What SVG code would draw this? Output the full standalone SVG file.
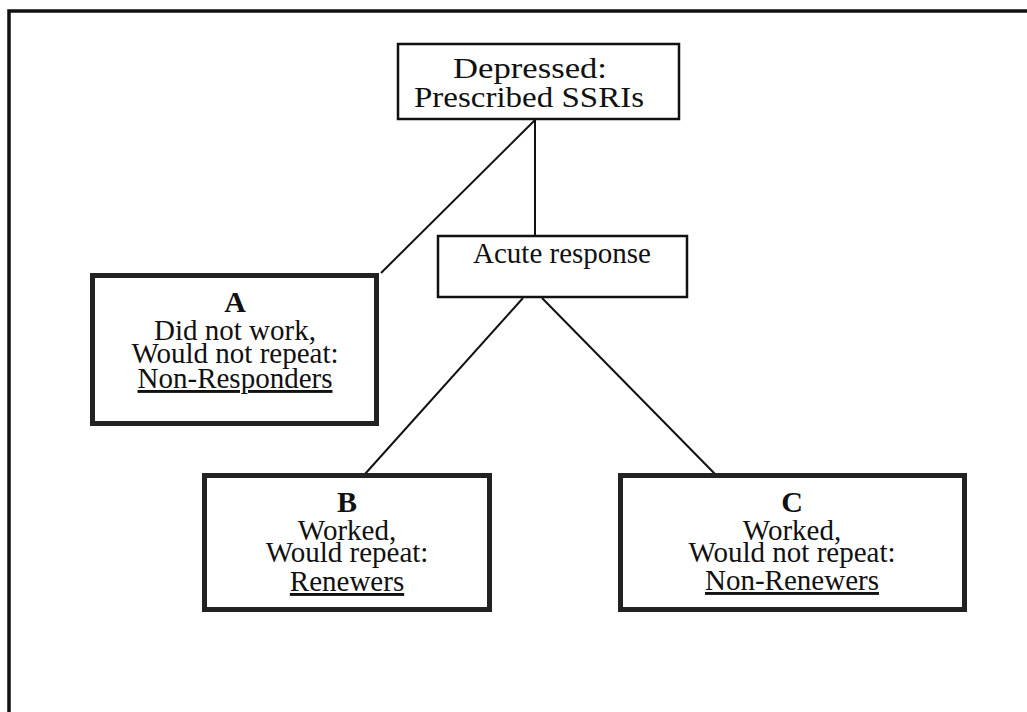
<svg xmlns="http://www.w3.org/2000/svg" width="1027" height="712" viewBox="0 0 1027 712">
<style>
.t{font-family:"Liberation Serif","Times New Roman",serif;font-size:29px;fill:#111;text-anchor:middle}
.b{font-weight:bold;font-size:30px}
.u{text-decoration:underline}
.thin{fill:#fff;stroke:#111;stroke-width:2.5}
.thick{fill:#fff;stroke:#222;stroke-width:5}
.c{stroke:#111;stroke-width:2;fill:none}
</style>
<rect width="1027" height="712" fill="#fff"/>
<path d="M9,712 V11 H1027" fill="none" stroke="#111" stroke-width="3.5"/>
<g id="connectors">
<line class="c" x1="535" y1="120" x2="381" y2="273"/>
<line class="c" x1="535" y1="120" x2="535" y2="236"/>
<line class="c" x1="523" y1="298" x2="365" y2="474"/>
<line class="c" x1="542" y1="298" x2="715" y2="474"/>
</g>
<g id="top">
<rect class="thin" x="398" y="44" width="281" height="75"/>
<text class="t" x="530" y="78" textLength="154" lengthAdjust="spacingAndGlyphs">Depressed:</text>
<text class="t" x="529" y="107" textLength="230" lengthAdjust="spacingAndGlyphs">Prescribed SSRIs</text>
</g>
<g id="acute">
<rect class="thin" x="438" y="236" width="249" height="61"/>
<text class="t" x="562" y="263">Acute response</text>
</g>
<g id="nodeA">
<rect class="thick" x="92.5" y="275.5" width="284" height="148"/>
<text class="t b" x="235" y="312">A</text>
<text class="t" x="235" y="340">Did not work,</text>
<text class="t" x="235" y="363">Would not repeat:</text>
<text class="t u" x="235" y="388">Non-Responders</text>
</g>
<g id="nodeB">
<rect class="thick" x="204.5" y="475.5" width="285" height="134"/>
<text class="t b" x="347" y="512">B</text>
<text class="t" x="347" y="540">Worked,</text>
<text class="t" x="347" y="562">Would repeat:</text>
<text class="t u" x="347" y="591">Renewers</text>
</g>
<g id="nodeC">
<rect class="thick" x="620.5" y="475.5" width="344" height="134"/>
<text class="t b" x="792" y="512">C</text>
<text class="t" x="792" y="540">Worked,</text>
<text class="t" x="792" y="562">Would not repeat:</text>
<text class="t u" x="792" y="590">Non-Renewers</text>
</g>
</svg>
